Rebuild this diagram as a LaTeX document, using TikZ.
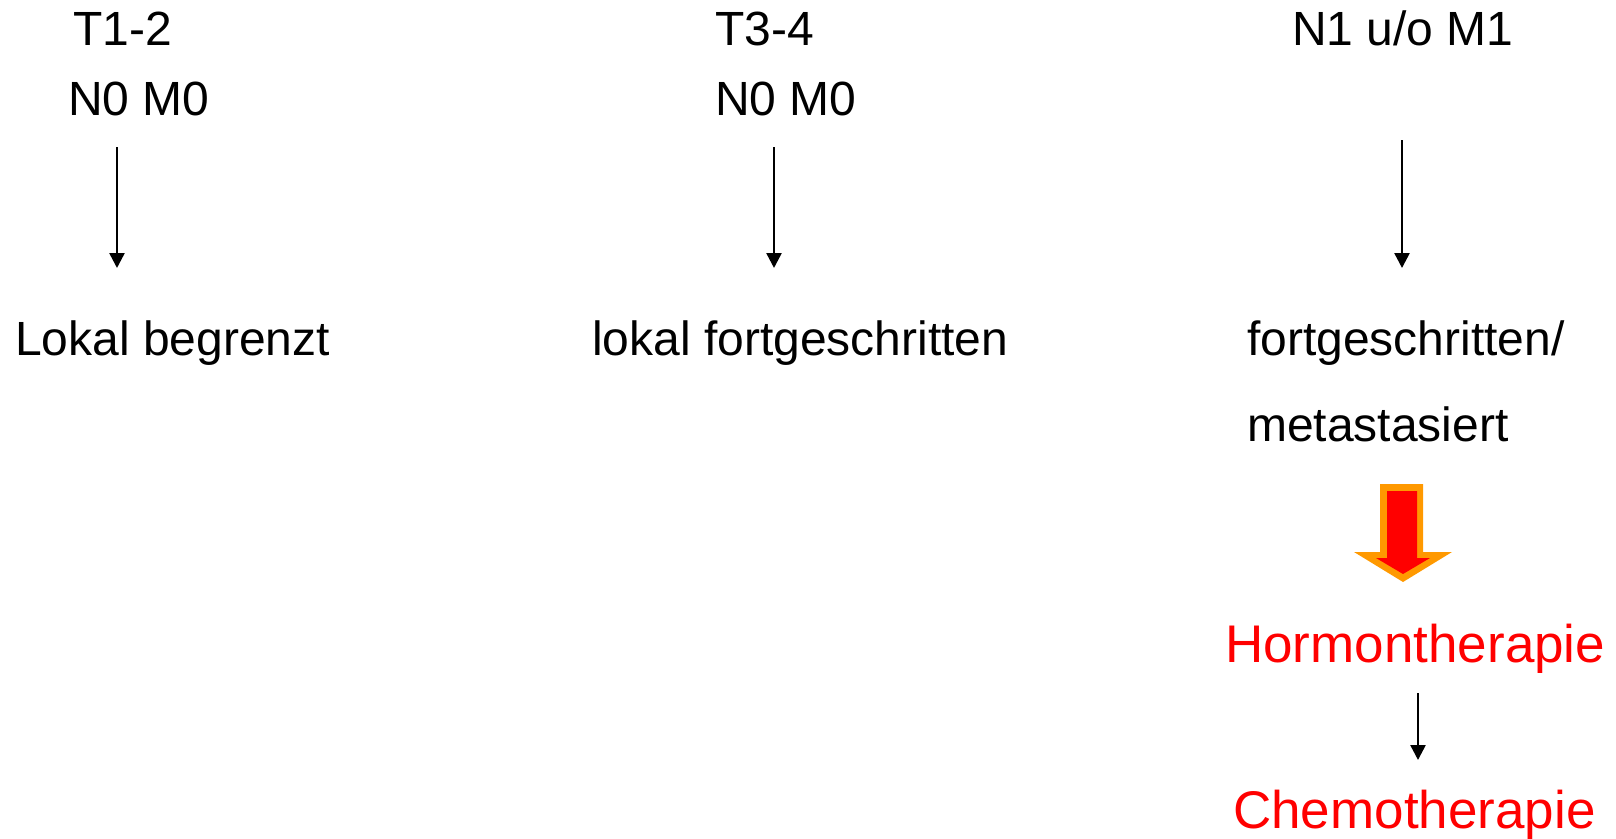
\documentclass[tikz,border=0pt]{standalone}
\usepackage{fontspec}
\setmainfont{Liberation Sans}
\usetikzlibrary{arrows.meta}
\definecolor{blockorange}{HTML}{FF9900}
\definecolor{txtred}{HTML}{FF0000}
\tikzset{
  lbl/.style={anchor=base west, inner sep=0pt, font=\fontsize{48}{57}\selectfont},
  redlbl/.style={anchor=base west, inner sep=0pt, text=txtred, font=\fontsize{53}{63}\selectfont},
  conn/.style={line width=2.5pt, -{Triangle[width=15pt,length=15pt]}},
}
\begin{document}
\begin{tikzpicture}[x=1pt,y=-1pt]
\useasboundingbox (0,0) rectangle (1616,838);
% column 1
\node[lbl] (t12) at (73,45) {T1-2};
\node[lbl] (n0m0a) at (68,115) {N0 M0};
\node[lbl] (lb) at (15,355) {Lokal begrenzt};
% column 2
\node[lbl] (t34) at (715,45) {T3-4};
\node[lbl] (n0m0b) at (715,115) {N0 M0};
\node[lbl] (lf) at (592,355) {lokal fortgeschritten};
% column 3
\node[lbl] (n1m1) at (1292,45) {N1 u/o M1};
\node[lbl] (fg) at (1247,355) {fortgeschritten/};
\node[lbl] (ms) at (1247,441) {metastasiert};
\node[redlbl] (ht) at (1225,662) {Hormontherapie};
\node[redlbl] (ct) at (1233,828) {Chemotherapie};
% connector end points
\coordinate (a1s) at (117,147);
\coordinate (a1e) at (117,268);
\coordinate (a2s) at (774,147);
\coordinate (a2e) at (774,268);
\coordinate (a3s) at (1402,140);
\coordinate (a3e) at (1402,268);
\coordinate (a4s) at (1418,693);
\coordinate (a4e) at (1418,760);
\draw[conn] (a1s) -- (a1e);
\draw[conn] (a2s) -- (a2e);
\draw[conn] (a3s) -- (a3e);
\draw[conn] (a4s) -- (a4e);
% block arrow
\fill[blockorange] (1380,484) -- (1423,484) -- (1423,552) -- (1452,552) -- (1403,582) -- (1354,552) -- (1380,552) -- cycle;
\fill[txtred] (1387,491) -- (1417,491) -- (1417,558) -- (1430,558) -- (1403,574) -- (1376,558) -- (1387,558) -- cycle;
\end{tikzpicture}
\end{document}
